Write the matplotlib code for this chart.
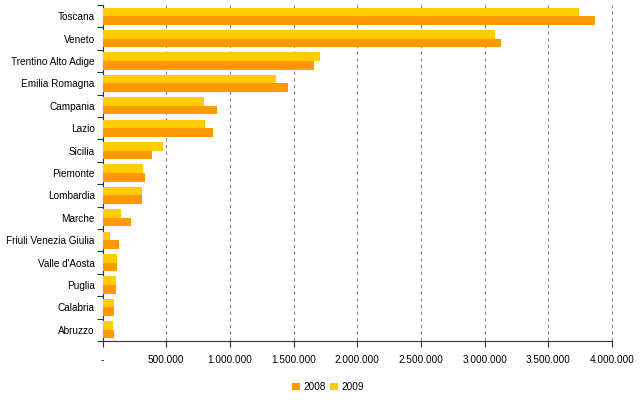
import matplotlib
matplotlib.use("Agg")
import matplotlib.pyplot as plt
import numpy as np
from matplotlib.ticker import FixedLocator, FuncFormatter

categories = ["Toscana", "Veneto", "Trentino Alto Adige", "Emilia Romagna", "Campania",
              "Lazio", "Sicilia", "Piemonte", "Lombardia", "Marche",
              "Friuli Venezia Giulia", "Valle d'Aosta", "Puglia", "Calabria", "Abruzzo"]
v2008 = [3866000, 3130000, 1660000, 1456000, 899000, 867000, 389000, 334000, 310000,
         224000, 130000, 114000, 106000, 90000, 90000]
v2009 = [3740000, 3080000, 1707000, 1360000, 797000, 805000, 475000, 318000, 310000,
         145000, 59000, 114000, 106000, 90000, 82000]
xticks = [0, 500000, 1000000, 1500000, 2000000, 2500000, 3000000, 3500000, 4000000]

c2008 = "#FF9900"
c2009 = "#FFCC00"

plt.rcParams['font.family'] = ['Liberation Sans', 'DejaVu Sans']
fig = plt.figure(figsize=(6.44, 4.04), dpi=100)
ax = fig.add_axes([102.5/644, 1-341/404, (612-102.5)/644, (341-5)/404])

n = len(categories)
y = np.arange(n)
h = 0.38
ax.barh(y - h/2, v2009, height=h, color=c2009, label="2009", zorder=3)
ax.barh(y + h/2, v2008, height=h, color=c2008, label="2008", zorder=3)

ax.set_ylim(n - 0.5, -0.5)
ax.set_xlim(0, 4000000)
ax.set_yticks(y)
ax.set_yticklabels(categories, fontsize=7.2)
ax.yaxis.set_minor_locator(FixedLocator(np.arange(-0.5, n, 1.0)))
ax.tick_params(axis='y', which='major', length=0, pad=5.5)
ax.tick_params(axis='y', which='minor', length=4, width=0.8, color='#333333', direction='out')

ax.xaxis.set_major_locator(FixedLocator(xticks))
ax.xaxis.set_major_formatter(FuncFormatter(lambda v, p: "-" if v == 0 else f"{int(v):,}".replace(",", ".")))
ax.tick_params(axis='x', labelsize=7.2, length=4, width=0.8, color='#333333', pad=6)

ax.grid(axis='x', linestyle=(0, (3, 3)), color='#888888', linewidth=0.8, zorder=0)
for gl in ax.get_xgridlines():
    gl.set_clip_on(False)
for s in ['top', 'right']:
    ax.spines[s].set_visible(False)
for s in ['left', 'bottom']:
    ax.spines[s].set_color('#333333')
    ax.spines[s].set_linewidth(0.8)

handles, labels = ax.get_legend_handles_labels()
leg = fig.legend(handles[::-1], labels[::-1], loc='center', bbox_to_anchor=(328/644, 1-387/404),
                 ncol=2, frameon=False, fontsize=7.2, handlelength=0.8, handleheight=0.8,
                 handletextpad=0.3, columnspacing=0.5)

fig.savefig("out.png", dpi=100)
